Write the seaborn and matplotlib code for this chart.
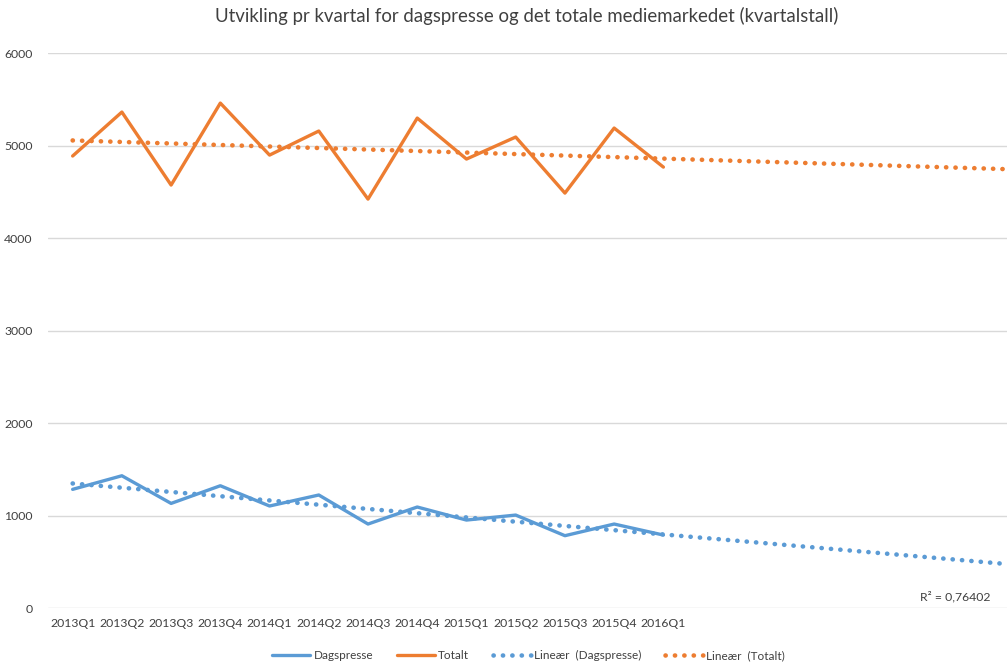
import numpy as np
import pandas as pd
import matplotlib
matplotlib.use("Agg")
import matplotlib.pyplot as plt
import seaborn as sns

quarters = ["2013Q1", "2013Q2", "2013Q3", "2013Q4", "2014Q1", "2014Q2", "2014Q3",
            "2014Q4", "2015Q1", "2015Q2", "2015Q3", "2015Q4", "2016Q1"]
dagspresse = [1283, 1430, 1131, 1322, 1103, 1222, 908, 1092, 951, 1005, 782, 908, 789]
totalt = [4887, 5362, 4573, 5459, 4897, 5157, 4421, 5297, 4854, 5092, 4486, 5189, 4767]
forecast_periods = 8
r2_label = "R² = 0,76402"

blue = "#5B9BD5"
orange = "#ED7D31"
txt = "#404040"

sns.set_style("white")
plt.rcParams["font.family"] = ["Lato", "DejaVu Sans"]

fig = plt.figure(figsize=(10.07, 6.64), dpi=100)
ax = fig.add_axes([0.0477, 0.0843, 0.9523, 0.8358])

idx = np.arange(len(quarters))
df = pd.DataFrame({"idx": np.concatenate([idx, idx]),
                   "value": dagspresse + totalt,
                   "serie": ["Dagspresse"] * len(idx) + ["Totalt"] * len(idx)})

sns.lineplot(data=df, x="idx", y="value", hue="serie",
             palette={"Dagspresse": blue, "Totalt": orange},
             linewidth=2.4, ax=ax, legend=False, zorder=3)

# linear trend lines, extended forward like Excel's forecast
x_ext = np.arange(len(quarters) + forecast_periods)
dot = (0, (0.05, 2.0))
for vals, col in [(dagspresse, blue), (totalt, orange)]:
    k, m = np.polyfit(idx, vals, 1)
    sns.lineplot(x=x_ext, y=k * x_ext + m, color=col, ax=ax, linewidth=3.3,
                 linestyle=dot, dash_capstyle="round", zorder=2)

ax.set_xlim(-0.5, 18.98)
ax.set_ylim(0, 6000)
ax.set_yticks(range(0, 6001, 1000))
ax.set_xticks(idx)
ax.set_xticklabels(quarters)
ax.grid(axis="y", color="#d9d9d9", linewidth=1)
ax.set_axisbelow(True)
for s in ax.spines.values():
    s.set_visible(False)
ax.tick_params(axis="both", length=0, labelsize=8.8, colors=txt)
ax.tick_params(axis="x", pad=7)
ax.tick_params(axis="y", pad=11)
ax.set_xlabel("")
ax.set_ylabel("")

ax.text(18.65, 60, r2_label, fontsize=8.8, color=txt, ha="right", va="bottom")

fig.suptitle("Utvikling pr kvartal for dagspresse og det totale mediemarkedet (kvartalstall)",
             x=0.523, y=0.99, va="top", fontsize=13.4, color=txt)

handles = [
    plt.Line2D([], [], color=blue, lw=2.4),
    plt.Line2D([], [], color=orange, lw=2.4),
    plt.Line2D([], [], color=blue, lw=3.3, linestyle=dot, dash_capstyle="round"),
    plt.Line2D([], [], color=orange, lw=3.3, linestyle=dot, dash_capstyle="round"),
]
labels = ["Dagspresse", "Totalt", "Lineær  (Dagspresse)", "Lineær  (Totalt)"]
fig.legend(handles, labels, loc="center", bbox_to_anchor=(0.525, 0.013), ncol=4,
           frameon=False, fontsize=8.5, handlelength=3.2, columnspacing=2.0,
           handletextpad=0.3, labelcolor=txt)

fig.savefig("out.png", dpi=100)
